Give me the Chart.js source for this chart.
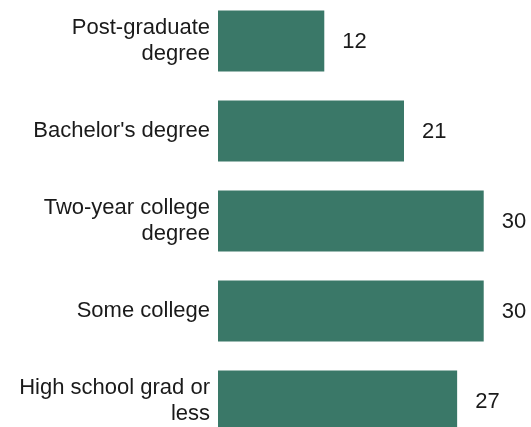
<!DOCTYPE html>
<html>
<head>
<meta charset="utf-8">
<script src="https://cdn.jsdelivr.net/npm/chart.js@4"></script>
<style>
  html, body { margin: 0; padding: 0; background: #fff; overflow: hidden; }
  body { width: 531px; height: 427px; position: relative; }
  #myChart { position: absolute; left: 0; top: -4px; }
</style>
</head>
<body>
<canvas id="myChart" width="531" height="450"></canvas>
<script>
// Education categories and the share for each
const categories = [
  ['Post-graduate', 'degree'],
  "Bachelor's degree",
  ['Two-year college', 'degree'],
  'Some college',
  ['High school grad or', 'less']
];
const values = [12, 21, 30, 30, 27];

const barColor = '#3a7868';
const fontFamily = "'Liberation Sans', Arial, sans-serif";

// writes the number to the right of each bar
const valueLabels = {
  id: 'valueLabels',
  afterDatasetsDraw(chart) {
    const ctx = chart.ctx;
    const meta = chart.getDatasetMeta(0);
    ctx.save();
    ctx.font = '22px ' + fontFamily;
    ctx.fillStyle = '#1a1a1a';
    ctx.textAlign = 'left';
    ctx.textBaseline = 'middle';
    meta.data.forEach((bar, i) => {
      ctx.fillText(String(values[i]), bar.x + 18, bar.y + 1);
    });
    ctx.restore();
  }
};

const ctx = document.getElementById('myChart');

new Chart(ctx, {
  type: 'bar',
  data: {
    labels: categories,
    datasets: [{
      data: values,
      backgroundColor: barColor,
      borderWidth: 0,
      barPercentage: 0.678,
      categoryPercentage: 1
    }]
  },
  options: {
    indexAxis: 'y',
    responsive: false,
    animation: false,
    layout: { padding: { left: 0, right: 3, top: 0, bottom: 0 } },
    scales: {
      x: {
        display: false,
        min: 0,
        max: 35
      },
      y: {
        grid: { display: false, drawTicks: false },
        border: { display: false },
        ticks: {
          color: '#1a1a1a',
          padding: 8,
          font: { family: fontFamily, size: 22, lineHeight: 1.22 }
        },
        afterFit(scale) {
          scale.width = 218;
          scale.paddingTop = 0;
          scale.paddingBottom = 0;
        }
      }
    },
    plugins: {
      legend: { display: false },
      tooltip: { enabled: false }
    }
  },
  plugins: [valueLabels]
});
</script>
</body>
</html>
